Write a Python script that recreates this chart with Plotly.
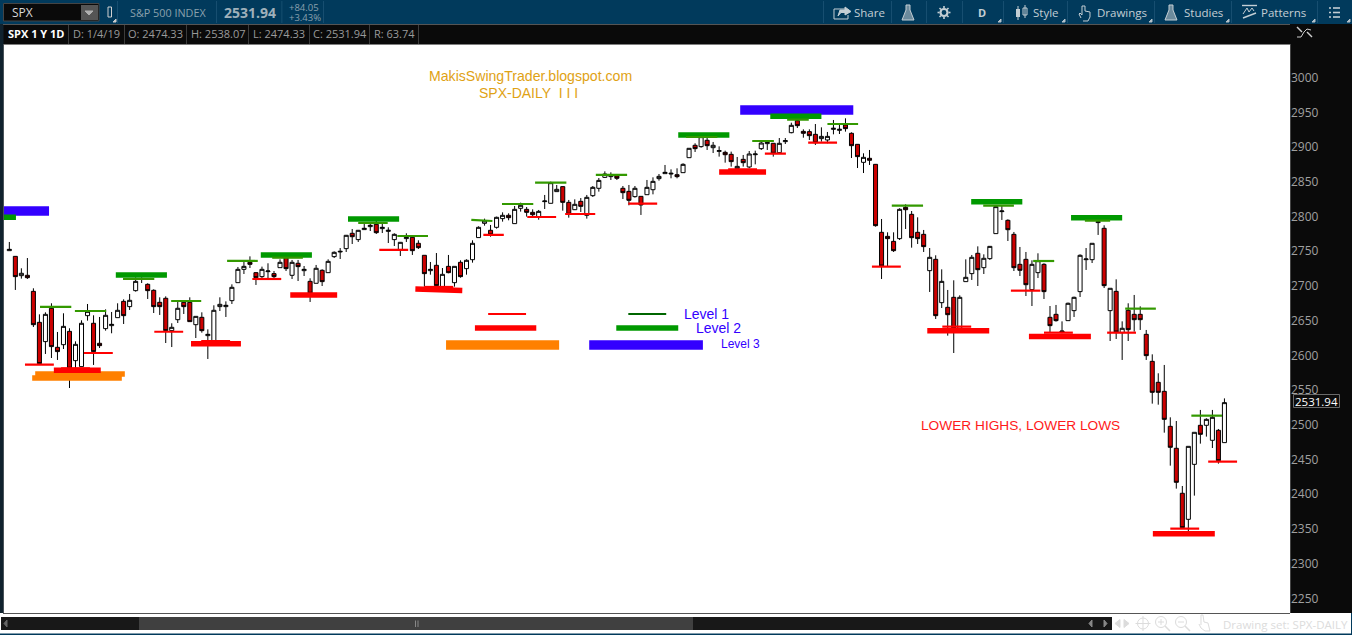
import plotly.graph_objects as go

# ---------- candle data (S&P 500 daily) ----------
highs = [2763.3,2743.1,2725.4,2740.2,2696.6,2659.1,2662,2675,2633.7,2660.6,2639,2620.2,2650.5,2674,2657.7,2655.3,2666.3,2662.5,2675,2680.7,
2688.4,2712.4,2712.4,2703.8,2695.1,2683.6,2685,2646.2,2677.4,2677.4,2683.6,2656.2,2662,2637.5,2672.1,2683.6,2677.8,2702.3,2727.3,2734.5,
2742.6,2719.6,2727.8,2732.6,2721.5,2738.3,2743.1,2737.4,2737.4,2728.7,2711,2730.2,2724,2738.3,2749.8,2754.6,2773.4,2782,2780.6,2790.2,
2790.2,2794,2790.2,2784.4,2775.8,2763.3,2775.8,2771.9,2765.7,2744.1,2734.5,2747.4,2725.8,2744.6,2728.2,2736.9,2738.3,2765.7,2785.8,2796.9,
2787.8,2799.8,2806,2804.6,2815.1,2819.9,2813.7,2810.3,2809.4,2831,2850.2,2845.4,2843.4,2823.8,2824.7,2826.6,2831,2843.9,2855.4,2865,
2863.6,2861.2,2843.9,2845.4,2843.9,2829,2852.6,2856.4,2861.2,2874.2,2867.9,2869.4,2876.6,2898.6,2905.4,2916.4,2913.5,2907.3,2901,2894.8,
2893.4,2885.7,2888.6,2894.3,2894.8,2909.2,2906.8,2905.4,2913,2913,2935.1,2941.4,2925.5,2925.5,2933.2,2928.4,2921.7,2939,2932.2,2941.4,
2921.2,2904.4,2891,2895.8,2875.6,2796.4,2777.2,2777.2,2811.8,2817.5,2807.9,2798.8,2780.6,2754.6,2744.1,2723.9,2694.2,2708.1,2686.5,2738.3,
2744.6,2757,2745.5,2757.5,2816.6,2815.1,2795.9,2777.7,2756.1,2748.9,2736.9,2747,2732.6,2671.1,2672.6,2649,2676,2684.6,2745.5,2754.6,
2761.4,2802.2,2787.3,2696.6,2709.5,2649,2675,2687,2670.6,2636.6,2601.5,2574.2,2586.2,2510.8,2505.5,2411.9,2469,2489.2,2521.4,2509.4,
2521.4,2494,2538.07]
body_top = [2752.7,2742.6,2718.2,2715.3,2692.2,2647.6,2659.1,2667.8,2611.6,2641.8,2634.6,2615.9,2646.2,2663.4,2646.2,2617.4,2657.7,2644.7,2664.9,2677.8,
2679.3,2706.6,2710.5,2702.3,2693.7,2676.4,2682.2,2640.4,2667.8,2676.4,2676.4,2656.2,2654.8,2630.3,2664.9,2673.5,2672.1,2698,2723.9,2728.2,
2734,2719.1,2723.9,2721.5,2717.7,2734,2742.2,2734,2732.6,2723.9,2706.6,2725.4,2722.5,2735.4,2748.4,2749.8,2772.9,2775.8,2780.1,2783,
2787.3,2788.7,2784.4,2780.1,2774.3,2762.8,2770,2770,2761.4,2744.1,2723.9,2729.7,2716.7,2728.2,2728.2,2734,2736.9,2761.4,2784.4,2793.5,
2780.1,2798.8,2801.7,2801.7,2810.3,2816.1,2810.3,2806,2807.4,2822.3,2848.7,2839.1,2843,2820.4,2817.5,2821.8,2827.6,2842,2852,2861.2,
2859.3,2858.3,2840.6,2836.2,2840.6,2829,2842,2850.6,2857.8,2863.6,2862.2,2860.2,2875.1,2898.2,2902.5,2915,2909.7,2902.5,2894.8,2892.4,
2889.5,2872.2,2882.3,2890,2890,2905.8,2906.8,2905.4,2905.4,2909.2,2931.3,2938,2922.6,2922.2,2918.3,2915.4,2915.4,2927,2925.5,2931.8,
2919.8,2903.9,2885.2,2883.8,2875.1,2777.2,2771.4,2764.2,2810.3,2813.2,2803.1,2777.2,2774.3,2741.2,2738.3,2706.6,2669.2,2683.6,2683.6,2712.4,
2741.2,2747,2739.8,2757,2814.2,2807.9,2794.5,2774.3,2731.1,2738.3,2731.1,2736.4,2731.1,2654.8,2659.1,2635.1,2675,2683.6,2744.1,2738.8,
2761.4,2792.6,2783,2696.6,2692.2,2639,2664.9,2659.1,2659.1,2630.3,2591.4,2561.2,2548.2,2497.8,2466.2,2401.4,2469,2489.2,2499.3,2507.9,
2510.8,2492.1,2531.94]
body_bottom = [2750.8,2713.4,2714.8,2711.9,2644.2,2588.1,2619.8,2612.6,2605.4,2615.4,2581.4,2592.4,2583.8,2657.2,2605.4,2614,2638.5,2642.8,2654.3,2657.2,
2670.2,2693.2,2709.5,2693.2,2670.2,2670.2,2635.6,2635.6,2651.4,2670.2,2648.6,2644.2,2635.6,2628.4,2619.8,2670.2,2670.2,2678.8,2704.7,2723.9,
2731.1,2711.9,2713.4,2720.6,2713.4,2726.3,2724.9,2715.3,2727.8,2722,2689.4,2703.8,2706.2,2719.1,2742.2,2748.9,2753.7,2770.9,2766.7,2781.1,
2785.4,2776.7,2782.5,2778.6,2766.7,2751.8,2768.1,2750.8,2755.1,2717.7,2722,2700.4,2699,2719.1,2704.7,2713.4,2724.9,2737.8,2769.6,2790.2,
2773.8,2784.4,2796.9,2798.3,2789.7,2811.8,2806,2802.6,2799.8,2821.4,2819,2835.8,2820.4,2803.1,2809.8,2814.6,2801.7,2830,2840.6,2856.4,
2857.4,2855,2834.3,2823.3,2828.6,2816.6,2831.4,2838.6,2854.5,2861.7,2861.2,2857.4,2863.1,2884.7,2897.7,2900.6,2902,2899.1,2893.8,2889,
2879,2868.9,2877.5,2871.3,2889,2897.7,2904.9,2891,2891.9,2907.8,2920.7,2930.8,2919.8,2916.4,2906.3,2912.1,2910.2,2925.5,2924.1,2926.5,
2902,2886.2,2878,2880.9,2786.8,2728.7,2768.1,2750.8,2768.1,2809.8,2769.5,2768.1,2756.6,2722,2657.2,2675.9,2658.6,2639,2639,2706.2,
2717.7,2723.4,2726.3,2739.3,2775.3,2807,2781,2726.3,2722.5,2701.8,2694.6,2719.1,2691.8,2642.8,2650,2633.2,2650,2664.4,2691.8,2737.8,
2737.8,2791.2,2700.4,2664.4,2633.7,2632.7,2637,2651.4,2651.4,2599.6,2546.8,2546.8,2507.9,2467.6,2417.2,2351.9,2363.9,2443.1,2486.3,2499.3,
2477.7,2448.4,2474.33]
lows = [2750.8,2694.2,2710.5,2710,2640.9,2588.1,2602,2596.2,2593.4,2609.2,2553,2581.4,2583.8,2650,2586.2,2610.6,2635.6,2631.8,2654.3,2645.2,
2665.4,2691.8,2704.2,2681.2,2661,2658.2,2617.8,2612,2646.6,2659.6,2648.6,2625,2632.7,2594.8,2619.8,2663.9,2655.3,2674,2704.7,2717.2,
2725.8,2701.4,2711,2711,2710,2726.3,2721.5,2710,2707.1,2714.3,2676.9,2703.8,2699.9,2719.1,2740.2,2738.8,2748.9,2760.4,2763.3,2781.1,
2779.1,2774.8,2776.2,2761.8,2757.5,2743.1,2763.3,2744.6,2753.2,2699,2716.2,2696.6,2696.6,2718.2,2699,2711.9,2716.2,2733.5,2769.6,2786.8,
2770.9,2782.5,2792.6,2794.5,2789.7,2807,2799.8,2800.7,2795.4,2810.8,2819,2835.8,2808.4,2798.3,2809.4,2806.5,2796.9,2828.1,2835.8,2855.4,
2852.6,2852.6,2825.2,2816.1,2827.1,2802.2,2831.4,2831.9,2851.6,2861.7,2855,2855,2863.1,2884.7,2892.9,2899.1,2895.8,2891.4,2886.2,2877.5,
2871.8,2868.9,2871.8,2869.4,2875.1,2895.8,2895.8,2886.2,2891,2904.4,2919.8,2927.4,2913.5,2910.2,2903,2907.8,2905.4,2918.3,2918.8,2922.2,
2884.2,2869.8,2862.6,2874.2,2785.4,2710,2727.8,2748.9,2766.2,2782,2755.1,2760.4,2748.9,2691.3,2652.4,2668.2,2628.4,2603.4,2639,2706.2,
2708.6,2699.9,2717.2,2737.4,2775.3,2795,2764.7,2721.5,2714.3,2685.5,2671.1,2711.4,2681.2,2632.7,2648.6,2631.8,2650,2655.3,2684.1,2723,
2733,2773.4,2697,2620.7,2623.6,2593.4,2620.7,2634.2,2636.6,2593.4,2530.5,2529,2488.7,2441.2,2408.1,2351.9,2346.2,2398,2472.9,2483,
2466.6,2444.1,2474.33]
candle_dir = (
    "u r u r r r u r r u r u u u r r u u u r"
    " u u u r r r r u u r r u r u u u u u u u"
    " r r u u r u r u r u r u r u u u u r u u"
    " u r u u u u u r r r u r u r u r u u u u"
    " r u u r u u r r u u u u r r u r u u u u"
    " u r r r u r u u u u u r u u r u r u u r"
    " r u r u u u u r u u u r r r r u u u u r"
    " r r u r r r r r u r r r r u r u r r u u"
    " u r u u u u r r r r u u r r r u u u u u"
    " u u r u r u r r r r r r r r r r u u r u"
    " u r u"
).split()
assert len(highs) == len(lows) == len(body_top) == len(body_bottom) == len(candle_dir) == 203
opens = [b if d == "u" else t for d, t, b in zip(candle_dir, body_top, body_bottom)]
closes = [t if d == "u" else b for d, t, b in zip(candle_dir, body_top, body_bottom)]
days = list(range(len(highs)))

# ---------- swing-level markers: (first candle, last candle, price[, price at end]) ----------
thin_green = [(5.1,10.3,2669.7),(10.9,16.1,2663.9),(18.9,24.1,2710),(26.9,31.9,2678.3),(36.2,41.3,2736),(43.7,48.8,2740.7),
    (58,62.9,2790.6),(64.5,69.6,2771.9),(76.8,80.3,2795,2793.5),(81.9,87.1,2818),(87.4,92.6,2848.7),(97.5,102.7,2859.8),
    (112.5,117.7,2914.5),(123.5,127.1,2908.7),(129.3,132.9,2939.4),(136,141.1,2933.2),(146.7,151.9,2815.6),(161.9,167,2815.6),
    (170.2,173.7,2735.9),(178.8,183,2794),(185.5,190.6,2667.3),(196.5,201.6,2513.2)]
thin_red = [(2.6,7.4,2586.6),(8.6,13.4,2581.4),(12.4,17.2,2603.4),(24.1,28.9,2634),(31.9,36.7,2620.7),(40.4,45.2,2710),
    (61.5,66.3,2751.8),(69,73.8,2698.5),(78.8,82.2,2773.4),(86.1,90.9,2799.3),(92.4,97.4,2803.6),(102.9,107.7,2818.5),
    (119.5,124.3,2867.9),(125.6,129.1,2890.5),(132.8,137.6,2906.3),(143.4,148.2,2727.8),(155.1,159.9,2641.4),(166.5,171.4,2693.2),
    (172,176.8,2632.7),(182.5,187.3,2632.7),(193,197.8,2350.5),(199.3,204.1,2447),(79.6,85.9,2659.6)]
thick_green = [(-0.9,1.1,2799),(17.7,26.2,2715.8),(41.8,50.3,2744.6),(56.3,64.8,2796.4),(111.2,119.7,2917.4),(126.5,135,2944.2),
    (159.9,168.4,2821.4),(176.5,185,2798.3),(100.9,111.2,2639.4)]
thick_red = [(7.4,15.2,2578.5),(30.2,38.5,2616.9),(46.7,54.5,2687),(67.5,75.3,2695.5,2693.5),(118,125.8,2864.1),(152.6,162.9,2635.6),
    (169.5,179.8,2627),(190.1,200.4,2343.3),(77.4,87.6,2639.4)]
major_blue = [(-0.9,6.6,2808),(121.5,140.3,2953.4),(96.4,115.3,2615)]
major_orange = [(72.6,91.4,2615)]
chart_orange = [(3.8,18.7,2567.5),(4.3,19.2,2573.2)]
key_green = [(102.9,109.2,2659.6)]

price_ticks = list(range(2250, 3001, 50))
last_price = 2531.94

W, H = 1352, 635
def px(x): return x / W
def py(y): return 1 - y / H

def level_trace(rows, color, width):
    xs, ys = [], []
    for r in rows:
        xs += [r[0], r[1], None]
        ys += [r[2], r[-1], None]
    return go.Scatter(x=xs, y=ys, mode="lines", line=dict(color=color, width=width), hoverinfo="skip", showlegend=False)

fig = go.Figure()
fig.add_trace(go.Candlestick(
    x=days, open=opens, high=highs, low=lows, close=closes, whiskerwidth=0,
    increasing=dict(line=dict(color="#000000", width=1), fillcolor="#ffffff"),
    decreasing=dict(line=dict(color="#000000", width=1), fillcolor="#cc0000"),
    showlegend=False))
for rows, color, width in [(major_blue, "#3300ff", 9.5), (major_orange, "#ff8000", 9.5), (chart_orange, "#ff8000", 5.5),
                           (thick_green, "#009900", 5.5), (thick_red, "#ff0000", 5.5), (thin_green, "#339900", 2.2),
                           (thin_red, "#ff0000", 2.2), (key_green, "#006600", 2.2)]:
    fig.add_trace(level_trace(rows, color, width))

shapes, annotations = [], []
def rect(x0, y0, x1, y1, fill, line=None, lw=1, layer="above"):
    shapes.append(dict(type="rect", xref="paper", yref="paper", x0=px(x0), x1=px(x1), y0=py(y0), y1=py(y1),
                       fillcolor=fill, line=dict(color=line or fill, width=lw if line else 0), layer=layer))
def path(pts, color, lw=1, fill=None, close=False):
    d = "M" + " L".join(f"{px(x):.5f},{py(y):.5f}" for x, y in pts) + (" Z" if close else "")
    shapes.append(dict(type="path", xref="paper", yref="paper", path=d, line=dict(color=color, width=lw),
                       fillcolor=fill or "rgba(0,0,0,0)", layer="above"))
def circle(cx, cy, r, color, lw=1):
    shapes.append(dict(type="circle", xref="paper", yref="paper", x0=px(cx-r), x1=px(cx+r), y0=py(cy+r), y1=py(cy-r),
                       line=dict(color=color, width=lw), layer="above"))
def text(x, y, s, size=12, color="#a8a8a8", font="Open Sans", anchor="left", bold=False):
    annotations.append(dict(xref="paper", yref="paper", x=px(x), y=py(y), text=f"<b>{s}</b>" if bold else s, showarrow=False,
                            xanchor=anchor, yanchor="middle", align="left", borderpad=0,
                            font=dict(size=size, color=color, family=font)))

NAVY = "#013a5c"; BLACK = "#0a0a0a"; GREY = "#555555"
# left strip, top bar, info bar
rect(0, 0, 3.5, 613, "#10222e")
rect(0, 0, W, 24, NAVY)
rect(3, 24, 1290, 25, GREY)
rect(3, 44, 1290, 44.8, GREY)
rect(1290, 44, 1291, 613, "#444444")
# bottom strip
rect(0, 613, W, 635, "#ffffff")
rect(3, 613, 1290, 614, GREY)
rect(1, 617, 1112, 630, "#181818")
rect(139, 617, 693, 630, "#404040")
rect(0, 633.6, W, 635, NAVY)
rect(1351, 613, W, 635, NAVY)
path([(7, 620), (4, 623.5), (7, 627)], "#666666", 1, "#666666", True)
rect(415, 620.5, 416, 627, "#888888"); rect(417.5, 620.5, 418.5, 627, "#888888")
path([(1092, 620), (1089, 623.5), (1092, 627)], "#888888", 1, "#888888", True)
path([(1104, 620), (1107, 623.5), (1104, 627)], "#888888", 1, "#888888", True)
# bottom-right icons
LG = "#dcdcdc"
path([(1115, 623.5), (1120, 619.5), (1120, 627.5)], LG, 1, LG, True); path([(1129, 623.5), (1124, 619.5), (1124, 627.5)], LG, 1, LG, True)
circle(1143, 623.5, 5.5, LG); path([(1143, 616), (1143, 631)], LG); path([(1135.5, 623.5), (1150.5, 623.5)], LG)
circle(1161, 622, 5.5, LG); path([(1165, 626), (1170, 631)], LG, 1.5); path([(1158, 622), (1164, 622)], LG); path([(1161, 619), (1161, 625)], LG)
circle(1181, 622, 5.5, LG); path([(1185, 626), (1190, 631)], LG, 1.5); path([(1178, 622), (1184, 622)], LG)
path([(1199, 624), (1201, 628), (1205, 631), (1210, 631), (1208, 623), (1204, 622), (1203, 615), (1201, 615), (1201, 625)], LG)
text(1222, 624, "Drawing set: SPX-DAILY", 11.5, "#dcdcdc")

# symbol box
rect(3.5, 3.5, 99, 21, "#0a0a0a", "#444444", 1)
rect(81, 5, 98, 20, "#555555")
path([(85, 11), (93, 11), (89, 15)], "#b0b0b0", 1, "#b0b0b0", True)
text(11, 13, "SPX", 12, "#d8d8d8")
rect(108, 7, 111.5, 17, "rgba(0,0,0,0)", "#d0d0d0", 1)
path([(113, 22), (116, 22), (116, 19)], "#cccccc", 1, "#cccccc", True)
for xs in [117, 216, 281.5, 323, 823, 891, 926, 962, 1003, 1067, 1154, 1231, 1317]:
    rect(xs, 1, xs + 0.8, 23, "#1d5475")
text(129, 12.5, "S&amp;P 500 INDEX", 10.8, "#8aa0ad")
text(223, 13, "2531.94", 14, "#9fb0ba", bold=True)
text(288, 7.5, "+84.05", 9.5, "#8aa0ad")
text(288, 17, "+3.43%", 9.5, "#8aa0ad")
# toolbar
TB = "#c4ced4"
text(853, 12.5, "Share", 11.5, TB); text(1032, 12.5, "Style", 11.5, TB); text(1096, 12.5, "Drawings", 11.5, TB)
text(1183, 12.5, "Studies", 11.5, TB); text(1260, 12.5, "Patterns", 11.5, TB); text(982, 12.5, "D", 11, TB, anchor="center", bold=True)
path([(846, 9), (834, 9), (834, 19), (848, 19), (848, 15)], TB)
path([(838, 16), (840, 10), (845, 10), (845, 7), (851, 11.5), (845, 15), (845, 12.5), (841, 12.5)], TB, 1, TB, True)
for fx in [908, 1171]:
    path([(fx - 2, 5), (fx + 2, 5), (fx + 2, 10), (fx + 6, 20), (fx - 6, 20), (fx - 2, 10)], TB, 1, "rgba(196,206,212,0.55)", True)
circle(944, 12.5, 3.5, TB, 2.2)
for a, b, c, d in [(944, 6, 944, 8), (944, 17, 944, 19), (937.5, 12.5, 939.5, 12.5), (948.5, 12.5, 950.5, 12.5),
                   (939.5, 8, 941, 9.5), (947, 15.5, 948.5, 17), (939.5, 17, 941, 15.5), (947, 9.5, 948.5, 8)]:
    path([(a, b), (c, d)], TB, 1.6)
rect(1016, 9, 1020, 17, TB); path([(1018, 6), (1018, 20)], TB)
rect(1023, 8, 1027, 15, "rgba(0,0,0,0)", TB, 1); path([(1025, 5), (1025, 18)], TB)
path([(1081, 18), (1079, 14), (1080, 13), (1082, 15), (1082, 6), (1085, 6), (1085, 11), (1090, 12), (1090, 17), (1088, 21), (1083, 21)], TB)
path([(1242, 5.5), (1257, 5.5)], TB, 1.4); path([(1243, 14), (1247, 8), (1249, 12), (1252, 8), (1254, 11)], TB)
path([(1243, 18), (1256, 13)], TB, 1.4)
for yy in [8, 12.5, 17]:
    rect(1329, yy - 0.8, 1331, yy + 0.8, TB); rect(1333, yy - 0.8, 1340, yy + 0.8, TB)
for tx in [998, 1062, 1149, 1226, 1312, 1347]:
    path([(tx, 22), (tx + 3, 22), (tx + 3, 19)], "#b5c2ca", 1, "#b5c2ca", True)

# info bar
text(7, 34, "SPX 1 Y 1D", 11, "#ffffff", bold=True)
for s, x in [("D: 1/4/19", 72), ("O: 2474.33", 127), ("H: 2538.07", 190), ("L: 2474.33", 252),
             ("C: 2531.94", 312), ("R: 63.74", 373)]:
    text(x, 34, s, 11, "#9a9a9a")
for xs in [68, 124, 186, 248, 309, 369, 418]:
    rect(xs, 25, xs + 0.8, 44, "#4a4a4a")
# squiggle icon, top right
path([(1297, 37), (1301, 37), (1304, 32), (1307, 29), (1311, 30)], "#cfcfcf", 1)
path([(1297, 27), (1302, 32)], "#cfcfcf", 1.4); path([(1307, 32), (1312, 37)], "#cfcfcf", 1.4)
# last-price tag
rect(1293.5, 394.5, 1339.5, 407.5, "#0c0c0c", "#6a6a6a", 1)
text(1316.5, 401, f"{last_price:.2f}", 11.5, "#ffffff", anchor="center")

# chart texts
AR = "Liberation Sans"
text(530, 76, "MakisSwingTrader.blogspot.com", 14.1, "#dfa214", AR, "center")
text(528, 93, "SPX-DAILY  I I I", 14, "#dfa214", AR, "center")
text(683, 314, "Level 1", 14, "#3300ff", AR)
text(695.5, 328, "Level 2", 14, "#3300ff", AR)
text(720, 344, "Level 3", 12, "#3300ff", AR)
text(1020, 425, "LOWER HIGHS, LOWER LOWS", 13.7, "#ff1a1a", AR, "center")

fig.update_layout(
    width=W, height=H, margin=dict(l=0, r=0, t=0, b=0), autosize=False,
    paper_bgcolor=BLACK, plot_bgcolor="#ffffff", showlegend=False, boxgap=0.33, boxgroupgap=0,
    shapes=shapes, annotations=annotations, hovermode=False,
    xaxis=dict(domain=[px(3.5), px(1290)], range=[-0.97, 212.9], showgrid=False, zeroline=False, showticklabels=False,
               ticks="", rangeslider=dict(visible=False), fixedrange=True),
    yaxis=dict(domain=[py(613), py(44)], range=[2229, 3048.4], side="right", showgrid=False, zeroline=False,
               tickmode="array", tickvals=price_ticks, ticktext=[str(v) for v in price_ticks], ticks="", ticklen=0,
               tickfont=dict(family="Open Sans", size=12, color="#a0a0a0"), fixedrange=True),
)
fig.write_html("out.html", config=dict(displayModeBar=False),
               post_script="document.body.style.margin='0';document.body.style.overflow='hidden';")
